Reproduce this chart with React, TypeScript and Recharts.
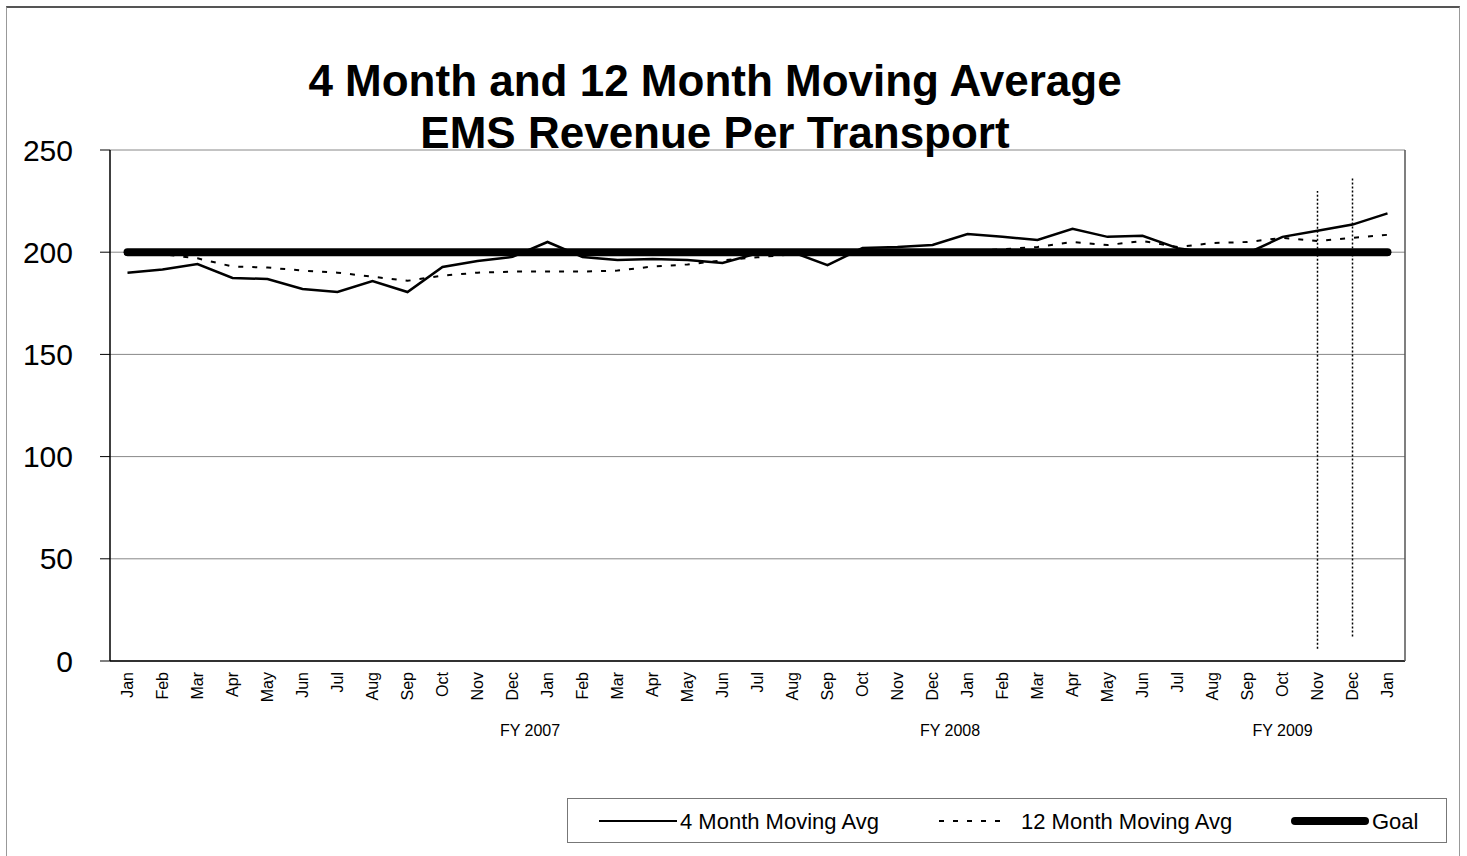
import React from 'react';
import { LineChart, Line, XAxis, YAxis, CartesianGrid, ReferenceLine } from 'recharts';

const months = [
  'Jan', 'Feb', 'Mar', 'Apr', 'May', 'Jun', 'Jul', 'Aug', 'Sep', 'Oct', 'Nov', 'Dec',
  'Jan', 'Feb', 'Mar', 'Apr', 'May', 'Jun', 'Jul', 'Aug', 'Sep', 'Oct', 'Nov', 'Dec',
  'Jan', 'Feb', 'Mar', 'Apr', 'May', 'Jun', 'Jul', 'Aug', 'Sep', 'Oct', 'Nov', 'Dec',
  'Jan',
];

const fourMonthAvg = [
  190, 191.5, 194.2, 187.4, 186.9, 182, 180.5, 185.9, 180.5, 192.8, 195.7, 197.7,
  205, 197.7, 196.2, 196.7, 196.2, 194.7, 199.5, 200, 193.7, 202, 202.5, 203.5,
  208.9, 207.5, 206, 211.4, 207.5, 208, 202, 199.5, 199.5, 207.5, 210.5, 213.5,
  219,
];

const twelveMonthAvg = [
  200, 199, 197, 193, 192.5, 191, 190, 188, 186, 188.5, 190, 190.5,
  190.5, 190.5, 191, 193, 194, 196, 197.5, 199, 199.5, 200, 200, 200,
  200.5, 201.5, 202.5, 205, 203.5, 205.5, 202.5, 204.5, 205, 207, 205.5, 207,
  208.5,
];

const goal = [
  200, 200, 200, 200, 200, 200, 200, 200, 200, 200, 200, 200,
  200, 200, 200, 200, 200, 200, 200, 200, 200, 200, 200, 200,
  200, 200, 200, 200, 200, 200, 200, 200, 200, 200, 200, 200,
  200,
];

const yTicks = [0, 50, 100, 150, 200, 250];
const fyLabels = ['FY 2007', 'FY 2008', 'FY 2009'];
const fyTickPositions = [11.5, 23.5, 33];
const markerLines = [
  { at: 34, from: 6, to: 230 },
  { at: 35, from: 12, to: 236 },
];

const titleLines = ['4 Month and 12 Month Moving Average', 'EMS Revenue Per Transport'];
const seriesNames = ['4 Month Moving Avg', '12 Month Moving Avg', 'Goal'];

const data = months.map((m, i) => ({
  idx: i,
  four: fourMonthAvg[i],
  twelve: twelveMonthAvg[i],
  goal: goal[i],
}));

const FONT = '"Liberation Sans", Arial, Helvetica, sans-serif';

const MonthTick = (props: any) => {
  const { x, y, payload } = props;
  return (
    <text
      x={x}
      y={y}
      transform={`rotate(-90, ${x}, ${y})`}
      textAnchor="end"
      dy="0.35em"
      fontSize={16}
      fill="#000"
      fontFamily={FONT}
    >
      {months[payload.value]}
    </text>
  );
};

export default function App() {
  return (
    <div
      style={{
        position: 'absolute',
        left: 0,
        top: 0,
        width: 1467,
        height: 856,
        background: '#fff',
        overflow: 'hidden',
        fontFamily: FONT,
      }}
    >
      <div
        style={{
          position: 'absolute',
          left: 6,
          top: 6,
          width: 1454,
          height: 880,
          border: '1px solid #999',
          borderTop: '2px solid #555',
          boxSizing: 'border-box',
        }}
      />
      <div style={{ position: 'absolute', left: 0, top: 0 }}>
        <LineChart
          width={1467}
          height={856}
          data={data}
          margin={{ top: 150, right: 61, bottom: 95, left: 0 }}
        >
          <CartesianGrid horizontal vertical={false} stroke="#888" strokeWidth={1} />
          <XAxis
            dataKey="idx"
            type="category"
            height={50}
            interval={0}
            padding={{ left: 17.5, right: 17.5 }}
            tickSize={0}
            tickMargin={11}
            tickLine={false}
            axisLine={{ stroke: '#000', strokeWidth: 1.5 }}
            tick={<MonthTick />}
          />
          <XAxis
            xAxisId="fy"
            dataKey="idx"
            type="number"
            domain={[-0.5, 36.5]}
            allowDataOverflow
            ticks={fyTickPositions}
            interval={0}
            tickFormatter={(v: number) => fyLabels[fyTickPositions.indexOf(v)]}
            height={50}
            tickSize={0}
            tickMargin={14}
            axisLine={false}
            tickLine={false}
            tick={{ fontSize: 16, fill: '#000', fontFamily: FONT }}
          />
          <YAxis
            domain={[0, 250]}
            ticks={yTicks}
            width={110}
            tickSize={10}
            tickMargin={27}
            axisLine={{ stroke: '#000', strokeWidth: 1.5 }}
            tickLine={{ stroke: '#000' }}
            tick={{ fontSize: 30, fill: '#000', fontFamily: FONT }}
            interval={0}
          />
          <YAxis
            yAxisId="frame"
            orientation="right"
            domain={[0, 250]}
            ticks={yTicks}
            width={1}
            tickSize={0}
            tick={false}
            tickLine={false}
            axisLine={{ stroke: '#555', strokeWidth: 1.5 }}
          />
          <Line
            dataKey="four"
            name={seriesNames[0]}
            stroke="#000"
            strokeWidth={2.5}
            dot={false}
            isAnimationActive={false}
          />
          <Line
            dataKey="twelve"
            name={seriesNames[1]}
            stroke="#000"
            strokeWidth={2}
            strokeDasharray="5 9"
            dot={false}
            isAnimationActive={false}
          />
          <Line
            dataKey="goal"
            name={seriesNames[2]}
            stroke="#000"
            strokeWidth={8}
            strokeLinecap="round"
            dot={false}
            isAnimationActive={false}
          />
          {markerLines.map((m) => (
            <ReferenceLine
              key={m.at}
              segment={[
                { x: m.at, y: m.from },
                { x: m.at, y: m.to },
              ]}
              stroke="#000"
              strokeWidth={1.5}
              strokeDasharray="2 2"
              ifOverflow="visible"
            />
          ))}
        </LineChart>
      </div>
      <div
        style={{
          position: 'absolute',
          left: 0,
          top: 55,
          width: 1430,
          textAlign: 'center',
          fontSize: 44,
          fontWeight: 'bold',
          lineHeight: '52px',
          color: '#000',
        }}
      >
        {titleLines.map((t) => (
          <div key={t}>{t}</div>
        ))}
      </div>
      <div
        style={{
          position: 'absolute',
          left: 567,
          top: 798,
          width: 880,
          height: 45,
          border: '1px solid #777',
          boxSizing: 'border-box',
          background: '#fff',
        }}
      >
        <svg width={878} height={43} style={{ position: 'absolute', left: 0, top: 0 }}>
          <line x1={31} x2={109} y1={22} y2={22} stroke="#000" strokeWidth={2} />
          <text x={112} y={30} fontSize={22} fontFamily={FONT} fill="#000">
            {seriesNames[0]}
          </text>
          <line x1={371} x2={438} y1={22} y2={22} stroke="#000" strokeWidth={2} strokeDasharray="5 9" />
          <text x={453} y={30} fontSize={22} fontFamily={FONT} fill="#000">
            {seriesNames[1]}
          </text>
          <line x1={727} x2={797} y1={22} y2={22} stroke="#000" strokeWidth={8} strokeLinecap="round" />
          <text x={804} y={30} fontSize={22} fontFamily={FONT} fill="#000">
            {seriesNames[2]}
          </text>
        </svg>
      </div>
    </div>
  );
}
